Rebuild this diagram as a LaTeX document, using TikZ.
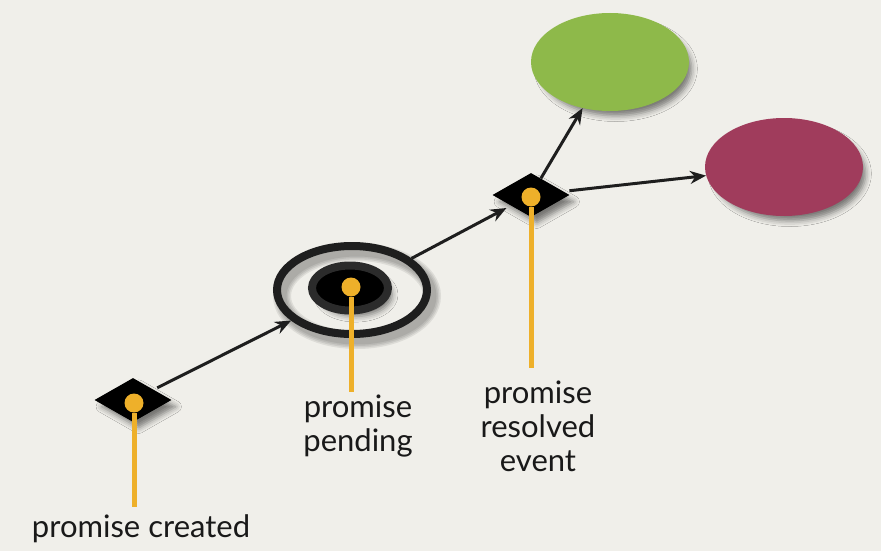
\documentclass[tikz,border=0pt]{standalone}
\usepackage{fontspec}
\setmainfont{Lato}
\usetikzlibrary{
    shapes.geometric,
    arrows.meta,
    positioning,
    shadows.blur
}
\definecolor{bgc}{HTML}{F0EFEA}
\definecolor{ink}{HTML}{1E1E1E}
\definecolor{amber}{HTML}{EEB02A}
\definecolor{leaf}{HTML}{8EB94A}
\definecolor{wine}{HTML}{A03C5C}
\tikzset{shd/.style={blur shadow={shadow xshift=6pt, shadow yshift=-7pt, shadow blur radius=6pt, shadow opacity=50, shadow scale=0.96}}}
\tikzset{evt/.style={diamond, inner sep=0, minimum width=77pt, minimum height=44pt, fill=black, shd}}
\tikzset{blob/.style={ellipse, inner sep=0, minimum width=158pt, minimum height=98pt, shd}}
\tikzset{odot/.style={circle, inner sep=0, minimum size=19pt, fill=amber}}
\tikzset{ostem/.style={draw=amber, line width=5pt}}
\tikzset{flow/.style={draw=ink, line width=3pt, -{Stealth[length=16pt, width=13pt]}}}
\tikzset{lbl/.style={inner sep=0, align=center, text=black!90, font=\fontsize{31}{34}\selectfont, xshift=7pt}}

\begin{document}
\begin{tikzpicture}[x=1pt, y=-1pt]
                        \fill[bgc] (0,0) rectangle (881,551);
                        \useasboundingbox (0,0) rectangle (881,551);

                        % soft shadow under the pending ring
                        \foreach \w in {9,12,15,18}
                            \draw[black, opacity=0.08, line width=\w pt] (357,296) ellipse [x radius=75, y radius=44];

                        \node[evt] (made) at (133,400) {};
                        \node[ellipse, draw=ink, line width=8pt, inner sep=0, minimum width=150pt, minimum height=88pt] (wait) at (352,290) {};
                        \node[ellipse, draw=black!83, fill=black, line width=8pt, inner sep=0, minimum width=76pt, minimum height=45pt, shd] (core) at (350,288) {};
                        \node[evt] (done) at (531,195) {};
                        \node[blob, fill=leaf] (ok) at (610,62) {};
                        \node[blob, fill=wine] (fail) at (784,167) {};

                        \draw[flow, shorten <=4pt] (made) -- (wait);
                        \draw[flow, shorten >=5pt] (wait) -- (done);
                        \draw[flow] (done) -- (ok);
                        \draw[flow, shorten <=6pt] (done) -- (fail);

                        \node[odot] (madeDot) at (134,403) {};
                        \node[odot] (waitDot) at (351,287) {};
                        \node[odot] (doneDot) at (531,197) {};

                        \coordinate (madeEnd) at (134,507);
                        \coordinate (waitEnd) at (351,392);
                        \coordinate (doneEnd) at (531,368);

                        \draw[ostem] (madeDot) -- (madeEnd);
                        \draw[ostem] (waitDot) -- (waitEnd);
                        \draw[ostem] (doneDot) -- (doneEnd);

                        \node[lbl, below=7pt of madeEnd] (madeText) {promise created};
                        \node[lbl, below=3pt of waitEnd] (waitText) {promise\\pending};
                        \node[lbl, below=13pt of doneEnd] (doneText) {promise\\resolved\\event};
                    \end{tikzpicture}
\end{document}
